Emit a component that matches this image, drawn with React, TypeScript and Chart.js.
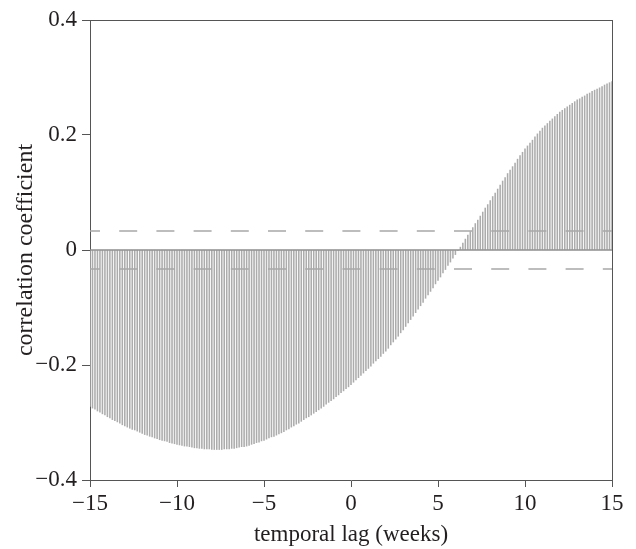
import React, { useEffect, useRef } from "react";
import { Chart, registerables } from "chart.js";

Chart.register(...registerables);

// temporal lags in weeks (daily resolution, -15 .. 15 weeks)
const lagWeeks: number[] = Array.from({ length: 211 }, (_, i) => (i - 105) / 7);

// cross-correlation coefficient at each lag
const correlation: number[] = [
  -0.272, -0.275, -0.277, -0.280, -0.282, -0.285, -0.287,
  -0.290, -0.292, -0.295, -0.297, -0.299, -0.301, -0.304,
  -0.306, -0.308, -0.310, -0.312, -0.313, -0.315, -0.317,
  -0.319, -0.321, -0.322, -0.324, -0.325, -0.327, -0.328,
  -0.330, -0.331, -0.332, -0.333, -0.335, -0.336, -0.337,
  -0.338, -0.339, -0.340, -0.341, -0.341, -0.342, -0.343,
  -0.344, -0.344, -0.345, -0.345, -0.346, -0.346, -0.346,
  -0.347, -0.347, -0.347, -0.347, -0.347, -0.346, -0.346,
  -0.346, -0.345, -0.345, -0.344, -0.343, -0.342, -0.342,
  -0.341, -0.340, -0.338, -0.337, -0.335, -0.334, -0.332,
  -0.331, -0.329, -0.327, -0.325, -0.324, -0.322, -0.320,
  -0.318, -0.316, -0.313, -0.311, -0.308, -0.306, -0.303,
  -0.301, -0.298, -0.295, -0.292, -0.290, -0.287, -0.284,
  -0.281, -0.278, -0.275, -0.272, -0.268, -0.265, -0.262,
  -0.259, -0.255, -0.252, -0.248, -0.245, -0.241, -0.238,
  -0.234, -0.230, -0.226, -0.222, -0.218, -0.214, -0.210,
  -0.206, -0.202, -0.197, -0.193, -0.189, -0.185, -0.180,
  -0.176, -0.171, -0.165, -0.160, -0.155, -0.150, -0.144,
  -0.139, -0.133, -0.127, -0.121, -0.115, -0.109, -0.103,
  -0.097, -0.091, -0.084, -0.078, -0.072, -0.066, -0.059,
  -0.053, -0.047, -0.040, -0.034, -0.027, -0.021, -0.014,
  -0.008, -0.001, 0.005, 0.012, 0.019, 0.026, 0.032,
  0.039, 0.046, 0.052, 0.059, 0.066, 0.073, 0.079,
  0.086, 0.093, 0.099, 0.106, 0.113, 0.120, 0.126,
  0.133, 0.139, 0.145, 0.151, 0.158, 0.164, 0.170,
  0.176, 0.181, 0.186, 0.191, 0.197, 0.202, 0.207,
  0.212, 0.216, 0.220, 0.224, 0.228, 0.232, 0.236,
  0.240, 0.243, 0.246, 0.249, 0.252, 0.255, 0.258,
  0.261, 0.263, 0.266, 0.268, 0.271, 0.273, 0.276,
  0.278, 0.280, 0.282, 0.284, 0.287, 0.289, 0.291,
  0.293,
];

// significance band and axis range
const significance = 0.033;
const xRange = [-15, 15];
const yRange = [-0.4, 0.4];
const xTickStep = 5;
const yTickStep = 0.2;

const FONT = '"Liberation Serif", "Times New Roman", Times, serif';
const TEXT = "#231f20";
const AXIS = "#555555";

const fmt = (v: number, digits: number) => {
  if (Math.abs(v) < 1e-9) return "0";
  const s = Math.abs(v).toFixed(digits);
  return v < 0 ? "\u2212" + s : s;
};

const frame = {
  id: "frame",
  afterDatasetsDraw(chart: any) {
    const { ctx, chartArea } = chart;
    ctx.save();
    ctx.strokeStyle = AXIS;
    ctx.lineWidth = 1;
    ctx.beginPath();
    ctx.moveTo(chartArea.left, chartArea.top + 0.5);
    ctx.lineTo(chartArea.right, chartArea.top + 0.5);
    ctx.moveTo(chartArea.right + 0.5, chartArea.top);
    ctx.lineTo(chartArea.right + 0.5, chartArea.bottom);
    ctx.stroke();
    ctx.restore();
  },
};

export default function App() {
  const ref = useRef<HTMLCanvasElement | null>(null);

  useEffect(() => {
    if (!ref.current) return;
    const stems = lagWeeks.map((x, i) => ({ x, y: correlation[i] }));
    const hLine = (y: number) => [
      { x: xRange[0], y },
      { x: xRange[1], y },
    ];
    const chart = new Chart(ref.current, {
      type: "bar",
      data: {
        datasets: [
          {
            type: "bar",
            data: stems as any,
            backgroundColor: "rgb(172,172,172)",
            borderWidth: 0,
            barThickness: 0.9,
            grouped: false,
            order: 3,
          } as any,
          {
            type: "line",
            data: hLine(0) as any,
            borderColor: "#8e8e8e",
            borderWidth: 1.5,
            pointRadius: 0,
            order: 1,
          } as any,
          {
            type: "line",
            data: hLine(significance) as any,
            borderColor: "#a8a8a8",
            borderWidth: 1.5,
            borderDash: [18, 19.2],
            borderDashOffset: 8,
            pointRadius: 0,
            order: 1,
          } as any,
          {
            type: "line",
            data: hLine(-significance) as any,
            borderColor: "#a8a8a8",
            borderWidth: 1.5,
            borderDash: [18, 19.2],
            borderDashOffset: 8,
            pointRadius: 0,
            order: 1,
          } as any,
        ],
      },
      options: {
        animation: false,
        responsive: false,
        maintainAspectRatio: false,
        layout: { padding: { top: 20, right: 24, left: 0, bottom: 0 } },
        plugins: {
          legend: { display: false },
          tooltip: { enabled: false },
        },
        scales: {
          x: {
            type: "linear",
            offset: false,
            min: xRange[0],
            max: xRange[1],
            grid: {
              offset: false,
              drawOnChartArea: false,
              drawTicks: true,
              tickLength: 7,
              color: AXIS,
            },
            border: { display: true, color: AXIS, width: 1 },
            ticks: {
              stepSize: xTickStep,
              padding: 3,
              color: TEXT,
              font: { family: FONT, size: 23 },
              callback: (v: any) => fmt(Number(v), 0),
              maxRotation: 0,
            },
            title: {
              display: true,
              text: "temporal lag (weeks)",
              color: TEXT,
              font: { family: FONT, size: 23 },
              padding: { top: 0, bottom: 0 },
            },
            afterFit: (s: any) => {
              s.height = 69;
            },
          },
          y: {
            type: "linear",
            min: yRange[0],
            max: yRange[1],
            grid: {
              drawOnChartArea: false,
              drawTicks: true,
              tickLength: 8,
              color: AXIS,
            },
            border: { display: true, color: AXIS, width: 1 },
            ticks: {
              stepSize: yTickStep,
              padding: 5,
              color: TEXT,
              font: { family: FONT, size: 23 },
              callback: (v: any) => fmt(Number(v), 1),
            },
            title: {
              display: true,
              text: "correlation coefficient",
              color: TEXT,
              font: { family: FONT, size: 24 },
              padding: { top: 11, bottom: 0 },
            },
            afterFit: (s: any) => {
              s.width = 90;
            },
          },
        },
      } as any,
      plugins: [frame],
    });
    return () => chart.destroy();
  }, []);

  return (
    <div
      style={{
        position: "absolute",
        left: 0,
        top: 0,
        width: 636,
        height: 549,
        background: "#fff",
      }}
    >
      <canvas ref={ref} width={636} height={549} />
    </div>
  );
}
